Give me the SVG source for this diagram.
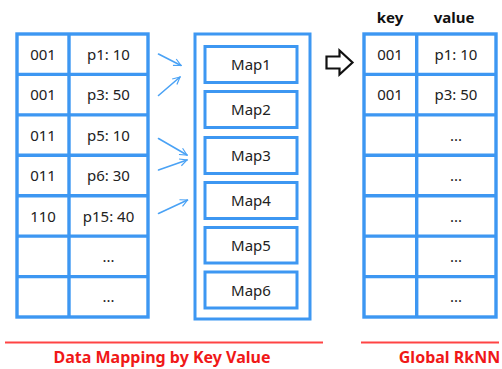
<svg xmlns="http://www.w3.org/2000/svg" width="502" height="369" viewBox="0 0 502 369">
<style>
.grid{fill:none;stroke:#3d97f2;stroke-width:3.4}
.box{fill:#fff;stroke:#3d97f2;stroke-width:3}
.t{font-family:"Noto Sans","Open Sans",sans-serif;font-size:15px;fill:#222;text-anchor:middle}
.h{font-family:"Noto Sans","Open Sans",sans-serif;font-size:15px;font-weight:bold;fill:#111;text-anchor:middle}
.r{font-family:"Noto Sans","Open Sans",sans-serif;font-size:16px;font-weight:bold;fill:#f01818;text-anchor:middle}
.conn{fill:none;stroke:#4aa2f5;stroke-width:1.6;stroke-linecap:round}
.red{stroke:#f44;stroke-width:2}
</style>
<defs>
<marker id="ah" viewBox="0 0 10 10" refX="9" refY="5" markerWidth="9" markerHeight="9" markerUnits="userSpaceOnUse" orient="auto">
<path d="M1,1 L9,5 L1,9" fill="none" stroke="#4aa2f5" stroke-width="1.3"/>
</marker>
</defs>
<rect width="502" height="369" fill="#fff"/>

<g id="input-table">
<rect class="grid" x="17" y="34" width="131" height="283"/>
<path class="grid" d="M69,34V317 M17,74.4H148 M17,114.9H148 M17,155.3H148 M17,195.7H148 M17,236.1H148 M17,276.6H148"/>
<text class="t" x="43" y="59.5">001</text><text class="t" x="108.5" y="59.5">p1: 10</text>
<text class="t" x="43" y="100">001</text><text class="t" x="108.5" y="100">p3: 50</text>
<text class="t" x="43" y="140.5">011</text><text class="t" x="108.5" y="140.5">p5: 10</text>
<text class="t" x="43" y="181">011</text><text class="t" x="108.5" y="181">p6: 30</text>
<text class="t" x="43" y="221.5">110</text><text class="t" x="108.5" y="221.5">p15: 40</text>
<text class="t" x="108.5" y="262">...</text>
<text class="t" x="108.5" y="302">...</text>
</g>

<g id="map-container">
<rect class="box" x="195" y="34" width="115" height="285" fill="none"/>
</g>
<g id="map1"><rect class="box" x="205" y="46.5" width="92" height="36"/><text class="t" x="251" y="70">Map1</text></g>
<g id="map2"><rect class="box" x="205" y="91.5" width="92" height="36"/><text class="t" x="251" y="115">Map2</text></g>
<g id="map3"><rect class="box" x="205" y="137.5" width="92" height="36"/><text class="t" x="251" y="161">Map3</text></g>
<g id="map4"><rect class="box" x="205" y="182.5" width="92" height="36"/><text class="t" x="251" y="206">Map4</text></g>
<g id="map5"><rect class="box" x="205" y="227.5" width="92" height="35.5"/><text class="t" x="251" y="250.5">Map5</text></g>
<g id="map6"><rect class="box" x="205" y="272" width="92" height="36"/><text class="t" x="251" y="295.5">Map6</text></g>

<g id="connectors">
<line class="conn" x1="158.5" y1="54" x2="181" y2="65.5" marker-end="url(#ah)"/>
<line class="conn" x1="158.5" y1="95.5" x2="180" y2="77" marker-end="url(#ah)"/>
<line class="conn" x1="158.5" y1="138.5" x2="187" y2="155" marker-end="url(#ah)"/>
<line class="conn" x1="158.5" y1="170" x2="187" y2="160" marker-end="url(#ah)"/>
<line class="conn" x1="158.5" y1="213.5" x2="187.5" y2="200" marker-end="url(#ah)"/>
</g>

<g id="block-arrow">
<path d="M326.5,56.5 H339.5 V50.5 L352.5,62.5 L339.5,74.5 V68.5 H326.5 Z" fill="#fff" stroke="#111" stroke-width="2.2" stroke-linejoin="miter"/>
</g>

<g id="output-table">
<text class="h" x="390" y="22.5">key</text>
<text class="h" x="454" y="22.5">value</text>
<rect class="grid" x="364" y="34" width="132" height="283"/>
<path class="grid" d="M416.7,34V317 M364,74.4H496 M364,114.9H496 M364,155.3H496 M364,195.7H496 M364,236.1H496 M364,276.6H496"/>
<text class="t" x="390" y="59.5">001</text><text class="t" x="456" y="59.5">p1: 10</text>
<text class="t" x="390" y="100">001</text><text class="t" x="456" y="100">p3: 50</text>
<text class="t" x="456" y="140.5">...</text>
<text class="t" x="456" y="181">...</text>
<text class="t" x="456" y="221.5">...</text>
<text class="t" x="456" y="262">...</text>
<text class="t" x="456" y="302">...</text>
</g>

<g id="captions">
<line class="red" x1="5" y1="342.5" x2="323" y2="342.5"/>
<line class="red" x1="361" y1="342.5" x2="499" y2="342.5"/>
<text class="r" x="162" y="363">Data Mapping by Key Value</text>
<text class="r" x="449.5" y="363">Global RkNN</text>
</g>
</svg>
